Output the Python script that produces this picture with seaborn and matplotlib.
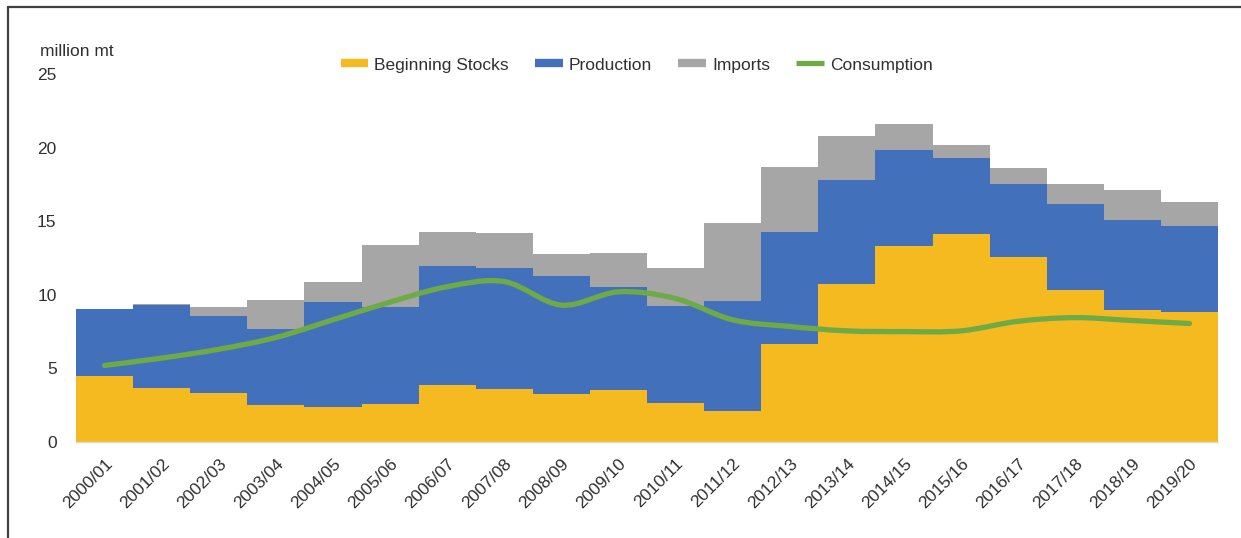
import numpy as np
import pandas as pd
import matplotlib
matplotlib.use("Agg")
import matplotlib.pyplot as plt
import seaborn as sns
from matplotlib.lines import Line2D
from matplotlib.path import Path
from matplotlib.patches import PathPatch

# marketing years
years = ["2000/01", "2001/02", "2002/03", "2003/04", "2004/05", "2005/06",
         "2006/07", "2007/08", "2008/09", "2009/10", "2010/11", "2011/12",
         "2012/13", "2013/14", "2014/15", "2015/16", "2016/17", "2017/18",
         "2018/19", "2019/20"]

# million mt
beginning_stocks = [4.5, 3.7, 3.35, 2.5, 2.4, 2.6, 3.9, 3.6, 3.25, 3.5,
                    2.65, 2.1, 6.65, 10.7, 13.3, 14.1, 12.6, 10.3, 9.0, 8.85]
production = [4.55, 5.6, 5.2, 5.2, 7.1, 6.6, 8.05, 8.2, 8.05, 7.0,
              6.6, 7.45, 7.65, 7.1, 6.55, 5.2, 4.9, 5.9, 6.05, 5.8]
imports = [0.0, 0.05, 0.65, 1.95, 1.4, 4.2, 2.3, 2.4, 1.5, 2.35,
           2.55, 5.35, 4.4, 3.0, 1.75, 0.9, 1.1, 1.3, 2.1, 1.65]
consumption = [5.2, 5.7, 6.3, 7.1, 8.3, 9.5, 10.55, 10.9, 9.3, 10.2,
               9.75, 8.3, 7.85, 7.55, 7.5, 7.55, 8.2, 8.45, 8.25, 8.05]

yellow = "#F5BA1F"
blue = "#4370BA"
gray = "#A6A6A6"
green = "#6EAB46"
text_color = "#303030"

df = pd.DataFrame({"year": years,
                   "stocks": beginning_stocks,
                   "production": production,
                   "imports": imports,
                   "consumption": consumption})
df["stocks_prod"] = df["stocks"] + df["production"]
df["total"] = df["stocks_prod"] + df["imports"]

sns.set_theme(style="white")
plt.rcParams["font.family"] = ["Liberation Sans", "DejaVu Sans"]

fig = plt.figure(figsize=(12.41, 5.38), dpi=100)
ax = fig.add_axes([76 / 1241, 1 - 442 / 538, (1218 - 76) / 1241, (442 - 74) / 538])

# stacked columns drawn as overlapping cumulative totals
sns.barplot(data=df, x="year", y="total", color=gray, width=1.0,
            saturation=1, linewidth=0, ax=ax)
sns.barplot(data=df, x="year", y="stocks_prod", color=blue, width=1.0,
            saturation=1, linewidth=0, ax=ax)
sns.barplot(data=df, x="year", y="stocks", color=yellow, width=1.0,
            saturation=1, linewidth=0, ax=ax)

# smoothed consumption line (Catmull-Rom style bezier, like Excel)
xs = np.arange(len(years), dtype=float)
ys = np.array(consumption, dtype=float)
verts = [(xs[0], ys[0])]
codes = [Path.MOVETO]
for i in range(len(xs) - 1):
    p0 = np.array([xs[max(i - 1, 0)], ys[max(i - 1, 0)]])
    p1 = np.array([xs[i], ys[i]])
    p2 = np.array([xs[i + 1], ys[i + 1]])
    p3 = np.array([xs[min(i + 2, len(xs) - 1)], ys[min(i + 2, len(xs) - 1)]])
    c1 = p1 + (p2 - p0) / 6
    c2 = p2 - (p3 - p1) / 6
    verts += [tuple(c1), tuple(c2), tuple(p2)]
    codes += [Path.CURVE4] * 3
ax.add_patch(PathPatch(Path(verts, codes), facecolor="none", edgecolor=green,
                       lw=3.8, capstyle="round", zorder=5))

ax.set_xlim(-0.5, len(years) - 0.5)
ax.set_ylim(0, 25)
ax.set_yticks([0, 5, 10, 15, 20, 25])
ax.set_xlabel("")
ax.set_ylabel("")
for s in ["top", "right", "left"]:
    ax.spines[s].set_visible(False)
ax.spines["bottom"].set_color("#D9D9D9")
ax.spines["bottom"].set_linewidth(1.0)

ax.tick_params(axis="y", length=0, pad=14, labelsize=12.5, labelcolor=text_color)
ax.set_xticks(xs)
ax.set_xticklabels(years, rotation=45, ha="right", rotation_mode="anchor",
                   fontsize=12.5, color=text_color)
ax.tick_params(axis="x", which="major", length=0, pad=10)
ax.set_xticks(np.arange(-0.5, len(years), 1.0), minor=True)
ax.tick_params(axis="x", which="minor", length=5, color="#D9D9D9", width=1)

fig.text(40 / 1241, 1 - 52 / 538, "million mt", fontsize=12.5,
         color=text_color, va="center", ha="left")

handles = [Line2D([], [], color=yellow, lw=6, solid_capstyle="butt"),
           Line2D([], [], color=blue, lw=6, solid_capstyle="butt"),
           Line2D([], [], color=gray, lw=6, solid_capstyle="butt"),
           Line2D([], [], color=green, lw=3.8, solid_capstyle="butt")]
labels = ["Beginning Stocks", "Production", "Imports", "Consumption"]
fig.legend(handles, labels, loc="center", bbox_to_anchor=(0.513, 1 - 65 / 538),
           ncol=4, frameon=False, fontsize=12.5, handlelength=1.6,
           handletextpad=0.35, columnspacing=1.5, labelcolor=text_color)

# outer frame: top and left edges
fig.add_artist(Line2D([8 / 1241, 1.0], [1 - 7 / 538, 1 - 7 / 538],
                      transform=fig.transFigure, color="#404040", lw=1.6))
fig.add_artist(Line2D([8 / 1241, 8 / 1241], [0.0, 1 - 7 / 538],
                      transform=fig.transFigure, color="#404040", lw=1.6))

fig.savefig("out.png", dpi=100)
